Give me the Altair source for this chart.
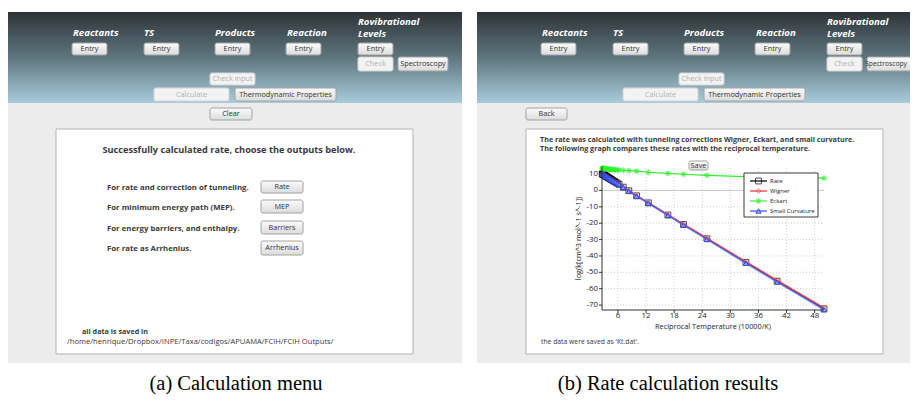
import altair as alt
import pandas as pd

W, H = 902, 387
PB = 469  # horizontal offset of the second screenshot

# ---------------- rate plot data ----------------
recip_T = [2.63, 2.70, 2.78, 2.86, 2.94, 3.03, 3.13, 3.23, 3.33, 3.45, 3.57,
           3.70, 3.85, 4.00, 4.17, 4.35, 4.55, 4.76, 5.00, 5.26, 5.56, 5.88,
           6.25, 7.14, 8.33, 10.0, 12.5, 16.67, 20.0, 25.0, 33.33, 40.0, 50.0]
rate = [10.1, 10.0, 9.9, 9.7, 9.6, 9.4, 9.3, 9.1, 8.9, 8.7, 8.5, 8.2, 8.0,
        7.7, 7.4, 7.1, 6.7, 6.4, 5.9, 5.5, 4.9, 4.4, 3.7, 2.0, -0.2, -3.3,
        -7.6, -15.0, -20.8, -29.5, -44.0, -55.4, -72.3]
wigner = [10.1, 10.0, 9.9, 9.7, 9.6, 9.4, 9.3, 9.1, 8.9, 8.7, 8.5, 8.2, 8.0,
          7.7, 7.4, 7.1, 6.7, 6.4, 5.9, 5.5, 4.9, 4.4, 3.8, 2.1, -0.1, -3.2,
          -7.4, -14.8, -20.5, -29.1, -43.5, -54.9, -71.6]
eckart = [13.6, 13.6, 13.5, 13.5, 13.4, 13.4, 13.3, 13.3, 13.2, 13.2, 13.1,
          13.1, 13.0, 13.0, 12.9, 12.9, 12.8, 12.8, 12.7, 12.6, 12.6, 12.5,
          12.4, 12.3, 12.1, 11.8, 11.1, 10.4, 9.9, 9.2, 8.4, 8.0, 7.5]
small_curv = [10.2, 10.1, 10.0, 9.8, 9.7, 9.5, 9.3, 9.1, 8.9, 8.7, 8.5, 8.2,
              8.0, 7.7, 7.4, 7.0, 6.7, 6.3, 5.9, 5.4, 4.9, 4.3, 3.6, 1.9,
              -0.4, -3.5, -7.8, -15.2, -21.1, -29.8, -44.4, -55.9, -72.8]
series_names = ["Rate", "Wigner", "Eckart", "Small Curvature"]
series_values = [rate, wigner, eckart, small_curv]
x_ticks = [6, 12, 18, 24, 30, 36, 42, 48]
y_ticks = [10, 0, -10, -20, -30, -40, -50, -60, -70]
x_domain = [2.6, 50]
y_domain = [-73, 14.3]
x_title = "Reciprocal Temperature (10000/K)"
y_title = "log(k[cm^3 mol^-1 s^-1])"

# ---------------- GUI texts ----------------
header_labels = [("Reactants", 73, 33), ("TS", 144, 33), ("Products", 215, 33),
                 ("Reaction", 287, 33), ("Rovibrational", 358, 21.5), ("Levels", 358, 33.5)]
header_buttons = [("Entry", 72, 107, 43, 55, True), ("Entry", 144, 179, 43, 55, True),
                  ("Entry", 215, 250, 43, 55, True), ("Entry", 286, 321, 43, 55, True),
                  ("Entry", 358, 393, 43, 55, True), ("Check", 358, 393, 57, 71, False),
                  ("Spectroscopy", 398, 448, 57, 71, True), ("Check input", 210, 255, 73, 85, False),
                  ("Calculate", 154, 229, 88, 101, False),
                  ("Thermodynamic Properties", 235, 336, 88, 101, True)]
a_buttons = [("Clear", 210, 252, 108, 120, True), ("Rate", 261, 303, 181, 193, True),
             ("MEP", 261, 303, 200, 213, True), ("Barriers", 261, 303, 221, 234, True),
             ("Arrhenius", 261, 303, 241, 255, True)]
b_buttons = [("Back", 526, 567, 108, 120, True), ("Save", 689, 708, 161, 170, True)]
a_title = "Successfully calculated rate, choose the outputs below."
a_rows = ["For rate and correction of tunneling.", "For minimum energy path (MEP).",
          "For energy barriers, and enthalpy.", "For rate as Arrhenius."]
a_rows_y = [188, 208, 229, 249]
a_saved = "all data is saved in"
a_path = "/home/henrique/Dropbox/INPE/Taxa/codigos/APUAMA/FClH/FClH  Outputs/"
b_lines = ["The rate was calculated with tunneling corrections Wigner, Eckart, and small curvature.",
           "The following graph compares these rates with the reciprocal temperature."]
b_saved = "the data were saved as  'Kt.dat'."
captions = ["(a) Calculation menu", "(b) Rate calculation results"]

# ---------------- scales ----------------
XS = alt.Scale(domain=[8, 910], nice=False, zero=False)
YS = alt.Scale(domain=[8, 395], nice=False, zero=False, reverse=True)
XP = alt.Scale(domain=x_domain, range=[594, 816], nice=False, zero=False)
YP = alt.Scale(domain=y_domain, range=[302, 159], nice=False, zero=False)

FONT = "Open Sans"


def cx(f):
    return alt.X(f"{f}:Q", scale=XS, axis=None)


def cy(f):
    return alt.Y(f"{f}:Q", scale=YS, axis=None)


def px(f):
    return alt.X(f"{f}:Q", scale=XP, axis=None)


def py(f):
    return alt.Y(f"{f}:Q", scale=YP, axis=None)


def rects(rows, **mark):
    df = pd.DataFrame(rows, columns=["x0", "x1", "y0", "y1"])
    return alt.Chart(df).mark_rect(**mark).encode(
        x=cx("x0"), x2="x1:Q", y=cy("y0"), y2="y1:Q")


def texts(rows, align="left", weight="normal", size=8, color="#3a3a3a",
          font=FONT, style="normal", xf=cx, yf=cy, angle=0):
    df = pd.DataFrame(rows, columns=["t", "x", "y"])
    return alt.Chart(df).mark_text(
        align=align, baseline="middle", fontWeight=weight, fontSize=size,
        color=color, font=font, fontStyle=style, angle=angle).encode(
        x=xf("x"), y=yf("y"), text="t:N")


HEADER_FILL = alt.Gradient(
    gradient="linear",
    stops=[alt.GradientStop(color="#2d3437", offset=0),
           alt.GradientStop(color="#5f767e", offset=0.5),
           alt.GradientStop(color="#a8ccdc", offset=1)],
    x1=0, x2=0, y1=0, y2=1)
BTN_FILL = alt.Gradient(
    gradient="linear",
    stops=[alt.GradientStop(color="#fbfbfb", offset=0),
           alt.GradientStop(color="#dcdcdc", offset=1)],
    x1=0, x2=0, y1=0, y2=1)

# buttons from both panels
all_buttons = []
for b in header_buttons:
    all_buttons.append(b)
    all_buttons.append((b[0], b[1] + PB, b[2] + PB, b[3], b[4], b[5]))
all_buttons += a_buttons + b_buttons
on = [b for b in all_buttons if b[5]]
off = [b for b in all_buttons if not b[5]]
# labels of enabled buttons; the one cut by the right page edge is nudged to stay visible
on_labels = []
for b in on:
    cxp = (b[1] + b[2]) / 2
    on_labels.append((b[0], min(cxp, 886), (b[3] + b[4]) / 2))

layers = [
    rects([(8, 462, 12, 103), (477, 918, 12, 103)], fill=HEADER_FILL),
    rects([(8, 462, 103, 363), (477, 918, 103, 363)], fill="#ececec"),
    rects([(56, 413, 129, 354), (526, 883, 129, 354)], fill="white",
          stroke="#b3b3b3", strokeWidth=1),
    rects([b[1:5] for b in on], fill=BTN_FILL, stroke="#a2a2a2", strokeWidth=1,
          cornerRadius=2),
    rects([b[1:5] for b in off], fill="#f3f3f3", stroke="#d4d4d4", strokeWidth=1,
          cornerRadius=2),
    texts([t for t in on_labels if t[1] < 886], align="center", size=7.3,
          color="#333333"),
    texts([t for t in on_labels if t[1] >= 886], align="center", size=6.7,
          color="#333333"),
    texts([(b[0], (b[1] + b[2]) / 2, (b[3] + b[4]) / 2) for b in off],
          align="center", size=7.3, color="#b0b0b0"),
    texts([(t, x, y) for t, x, y in header_labels] +
          [(t, x + PB, y) for t, x, y in header_labels],
          weight="bold", size=9.6, color="white", style="italic"),
    texts([(a_title, 229, 150)], align="center", weight="bold", size=9.2),
    texts([(t, 107, y) for t, y in zip(a_rows, a_rows_y)], weight="bold", size=7.8),
    texts([(a_saved, 82, 332)], weight="bold", size=7.2),
    texts([(a_path, 67, 342)], size=7.6),
    texts([(b_lines[0], 540, 140), (b_lines[1], 540, 149)], weight="bold", size=7.2),
    texts([(b_saved, 541, 342)], size=6.8),
    texts([(captions[0], 236, 384), (captions[1], 668, 384)], align="center",
          size=20.5, color="black", font="Liberation Serif"),
]
canvas = alt.layer(*layers)

# ---------------- rate plot ----------------
grid_v = pd.DataFrame({"x": x_ticks, "lo": [y_domain[0]] * len(x_ticks),
                       "hi": [y_domain[1]] * len(x_ticks)})
grid_h = pd.DataFrame({"y": y_ticks, "lo": [x_domain[0]] * len(y_ticks),
                       "hi": [x_domain[1]] * len(y_ticks)})
zero_df = pd.DataFrame({"y": [0], "lo": [x_domain[0]], "hi": [x_domain[1]]})

ASTERISK = "M-1,0L1,0M0,-1L0,1M-0.7,-0.7L0.7,0.7M-0.7,0.7L0.7,-0.7"
styles = {
    "Rate": dict(line=dict(color="#000000", strokeWidth=1.2),
                 pt=dict(shape="square", filled=False, color="#000000", size=34,
                         strokeWidth=1)),
    "Wigner": dict(line=dict(color="#ff3b3b", strokeWidth=1.3),
                   pt=dict(shape="diamond", filled=False, color="#ff3b3b", size=24,
                           strokeWidth=1)),
    "Eckart": dict(line=dict(color="#2ef02e", strokeWidth=1.1),
                   pt=dict(shape=ASTERISK, filled=False, color="#2ef02e", size=34,
                           strokeWidth=1.1)),
    "Small Curvature": dict(line=dict(color="#4f6cff", strokeWidth=2, opacity=0.7),
                            pt=dict(shape="triangle-up", filled=True, fill="#9aa8ff",
                                    fillOpacity=0.55, stroke="#2b46e8", size=26,
                                    strokeWidth=1)),
}

plot_layers = [
    alt.Chart(grid_v).mark_rule(color="#cfcfcf", strokeDash=[1, 2], strokeWidth=1)
    .encode(x=px("x"), y=py("lo"), y2="hi:Q"),
    alt.Chart(grid_h).mark_rule(color="#cfcfcf", strokeDash=[1, 2], strokeWidth=1)
    .encode(y=py("y"), x=px("lo"), x2="hi:Q"),
    alt.Chart(zero_df).mark_rule(color="#cccccc", strokeWidth=1)
    .encode(y=py("y"), x=px("lo"), x2="hi:Q"),
]
for name, vals in zip(series_names, series_values):
    df = pd.DataFrame({"x": recip_T, "y": vals})
    st = styles[name]
    plot_layers.append(alt.Chart(df).mark_line(**st["line"]).encode(x=px("x"), y=py("y")))
    plot_layers.append(alt.Chart(df).mark_point(**st["pt"]).encode(x=px("x"), y=py("y")))
plot = alt.layer(*plot_layers)

# ---------------- axes (data scale along, page scale across) ----------------
AX_COL = "#333333"
x_axis = alt.layer(
    alt.Chart(pd.DataFrame({"a": [x_domain[0]], "b": [x_domain[1]], "y": [310]}))
    .mark_rule(color=AX_COL, strokeWidth=1).encode(x=px("a"), x2="b:Q", y=cy("y")),
    alt.Chart(pd.DataFrame({"x": x_ticks, "y0": [310] * len(x_ticks),
                            "y1": [313] * len(x_ticks)}))
    .mark_rule(color=AX_COL, strokeWidth=1).encode(x=px("x"), y=cy("y0"), y2="y1:Q"),
    texts([(str(v), v, 316) for v in x_ticks], align="center", size=7.8,
          color="#1a1a1a", xf=px),
    texts([(x_title, (x_domain[0] + x_domain[1]) / 2, 326.5)], align="center",
          size=7.3, color="#1a1a1a", xf=px),
)
y_axis = alt.layer(
    alt.Chart(pd.DataFrame({"x": [602], "a": [y_domain[0]], "b": [y_domain[1]]}))
    .mark_rule(color=AX_COL, strokeWidth=1).encode(x=cx("x"), y=py("a"), y2="b:Q"),
    alt.Chart(pd.DataFrame({"y": y_ticks, "x0": [599] * len(y_ticks),
                            "x1": [602] * len(y_ticks)}))
    .mark_rule(color=AX_COL, strokeWidth=1).encode(y=py("y"), x=cx("x0"), x2="x1:Q"),
    texts([(str(v), 598, v) for v in y_ticks], align="right", size=7.8,
          color="#1a1a1a", yf=py),
    texts([(y_title, 579, (y_domain[0] + y_domain[1]) / 2)], align="center",
          size=7.3, color="#1a1a1a", yf=py, angle=270),
)

# ---------------- legend (drawn on the page canvas) ----------------
leg_layers = [rects([(744, 818, 173, 217)], fill="white", stroke="#3a3a3a",
                    strokeWidth=1)]
for i, name in enumerate(series_names):
    yy = 181 + 10 * i
    st = styles[name]
    seg = pd.DataFrame({"a": [750], "b": [767], "y": [yy]})
    leg_layers.append(alt.Chart(seg).mark_rule(**st["line"])
                      .encode(x=cx("a"), x2="b:Q", y=cy("y")))
    mk = pd.DataFrame({"x": [758.5], "y": [yy]})
    leg_layers.append(alt.Chart(mk).mark_point(**st["pt"]).encode(x=cx("x"), y=cy("y")))
leg_layers.append(texts([(n, 770, 181 + 10 * i) for i, n in enumerate(series_names)],
                        size=6.0, color="#222222"))
legend = alt.layer(*leg_layers)

chart = alt.layer(canvas, plot, x_axis, y_axis, legend).resolve_scale(
    x="independent", y="independent").properties(
    width=W, height=H, padding=0, background="white",
    autosize=alt.AutoSizeParams(type="none")).configure_view(stroke=None)

chart.save("out.html", embed_options={"renderer": "svg", "actions": False})
